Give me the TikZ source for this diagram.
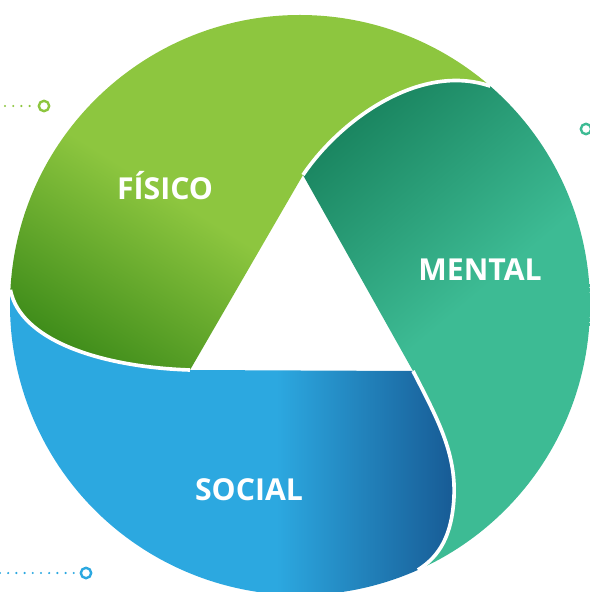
\documentclass[tikz,border=0pt]{standalone}
\usepackage{fontspec}
\newfontfamily\wordfont{Open Sans}
\usetikzlibrary{calc}

\definecolor{fisicoLight}{HTML}{8DC63F}
\definecolor{fisicoDark}{HTML}{3A8918}
\definecolor{mentalLight}{HTML}{3DBB94}
\definecolor{mentalDark}{HTML}{1A8560}
\definecolor{socialLight}{HTML}{2CA8E0}
\definecolor{socialDark}{HTML}{175A94}

\pgfdeclareverticalshading{fisicoShade}{100bp}{color(0bp)=(fisicoDark); color(20bp)=(fisicoDark); color(44bp)=(fisicoLight); color(100bp)=(fisicoLight)}
\pgfdeclareverticalshading{mentalShade}{100bp}{color(0bp)=(mentalLight); color(50bp)=(mentalLight); color(76bp)=(mentalDark); color(100bp)=(mentalDark)}
\pgfdeclarehorizontalshading{socialShade}{100bp}{color(0bp)=(socialLight); color(55bp)=(socialLight); color(75bp)=(socialDark); color(100bp)=(socialDark)}

\tikzset{
  seam/.style={draw=white, line width=2.6pt},
  wordlabel/.style={text=white, anchor=base, inner sep=0pt,
    font=\wordfont\bfseries\fontsize{21.5}{24}\selectfont},
  ring/.style={circle, draw=#1, line width=1.7pt, minimum size=0.26cm, inner sep=0pt},
  dotrow/.style={draw=#1, line width=1.7pt, line cap=round,
    dash pattern=on 0pt off 5.83pt, shorten >=3pt},
}

\begin{document}
\begin{tikzpicture}[x=0.025cm, y=-0.025cm]
\useasboundingbox (0,0) rectangle (590,592);

% triangle corners and where the seams meet the rim
\coordinate (ctr) at (300,305);
\coordinate (apex) at (303,175);
\coordinate (tl) at (190,370);
\coordinate (tr) at (413,371);
\coordinate (bmid) at (454,497);
\coordinate (gl) at ($(ctr)+(183:290)$);
\coordinate (gt) at ($(ctr)+(311:290)$);
\coordinate (bt) at ($(ctr)+(66:290)$);

% fisico
\shade[shading=fisicoShade, shading angle=-32]
  (apex) -- (tl) .. controls (100,367) and (20,340) .. (gl)
  arc[start angle=183, end angle=311, radius=290]
  .. controls (420,62) and (340,120) .. (apex) -- cycle;

% social
\shade[shading=socialShade]
  (gl) .. controls (20,340) and (100,367) .. (tl) -- (tr)
  .. controls (437,418) and (456,452) .. (bmid)
  .. controls (452,535) and (440,556) .. (bt)
  arc[start angle=66, end angle=183, radius=290] -- cycle;

% mental
\shade[shading=mentalShade, shading angle=40]
  (apex) -- (tr)
  .. controls (437,418) and (456,452) .. (bmid)
  .. controls (452,535) and (440,556) .. (bt)
  arc[start angle=66, end angle=-49, radius=290]
  .. controls (420,62) and (340,120) .. (apex) -- cycle;

% white seams
\draw[seam] (gl) .. controls (20,340) and (100,367) .. (tl);
\draw[seam] (tr) .. controls (437,418) and (456,452) .. (bmid)
  .. controls (452,535) and (440,556) .. (bt);
\draw[seam] (apex) .. controls (340,120) and (420,62) .. (gt);

\node[wordlabel] (fisico) at (165,199) {FÍSICO};
\node[wordlabel] (mental) at (480,280) {MENTAL};
\node[wordlabel] (social) at (249,500) {SOCIAL};

% dotted leaders
\node[ring=fisicoLight] (ringL) at (44,106) {};
\node[ring=mentalLight] (ringR) at (586,129) {};
\node[ring=socialLight] (ringB) at (86,573) {};
\coordinate (dotL) at (5,106);
\coordinate (dotB) at (0,573);
\draw[dotrow=fisicoLight] (dotL) -- (ringL);
\draw[dotrow=socialLight] (dotB) -- (ringB);
\end{tikzpicture}
\end{document}
